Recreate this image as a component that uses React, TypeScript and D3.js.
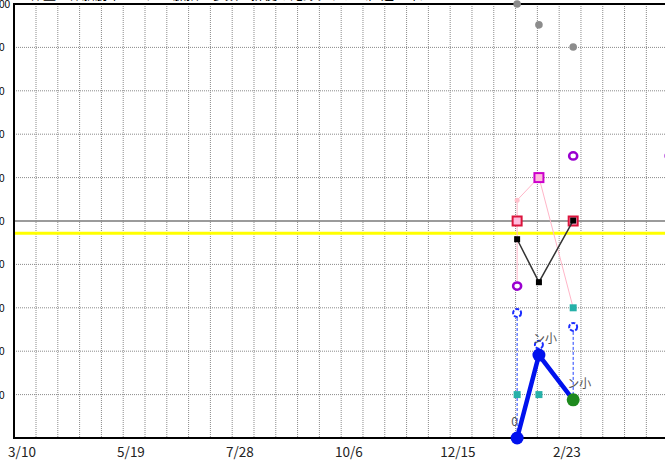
import React from "react";
import * as d3 from "d3";

const W = 665;
const H = 466;

// dates of observations
const obsDates = ["2023-01-22", "2023-02-05", "2023-02-27"];
const grayValues = [100, 95.2, 90.1];
const pinkValues = [54.8, 60.1, 30.0];
const squareValues = [50, 60, 50];
const squareColors = ["#dc143c", "#cc00cc", "#dc143c"];
const blackValues = [45.8, 35.9, 50.1];
const tealValues = [10, 10, 30];
const blueRingValues = [28.8, 21.5, 25.6];
const blueMainValues = [0, 19.1, 8.8];
const blueLabels = ["0", "ン小", "ン小"];
const purpleDates = ["2023-01-22", "2023-02-27", "2023-04-30"];
const purpleValues = [35, 65, 65];
const yellowValue = 47.2;
const xTickDates = ["2022-03-10", "2022-05-19", "2022-07-28", "2022-10-06", "2022-12-15", "2023-02-23", "2023-05-04"];
const yTicks = [100, 90, 80, 70, 60, 50, 40, 30, 20, 10];
const title = "体重・体脂肪率・血圧・脈拍・歩数・排便の記録グラフ（直近一年）";

const parse = d3.utcParse("%Y-%m-%d");
const fmt = d3.utcFormat("%-m/%-d");

export default function App() {
  const left = 14, top = 4, bottom = 438;
  const d0 = parse("2022-03-10")!;
  const pxPerDay = 1.557;
  const x = d3.scaleUtc()
    .domain([d0, d3.utcDay.offset(d0, 400)])
    .range([22, 22 + 400 * pxPerDay]);
  const y = d3.scaleLinear().domain([0, 100]).range([bottom, top]);

  const gridStart = parse("2022-03-19")!;
  const gridDates = d3.range(0, 30).map(i => d3.utcDay.offset(gridStart, i * 14));

  const od = obsDates.map(s => parse(s)!);
  const lineGen = d3.line<[Date, number]>().x(d => x(d[0])).y(d => y(d[1]));

  const pinkPts: [Date, number][] = od.map((d, i) => [d, pinkValues[i]]);
  const blackPts: [Date, number][] = od.map((d, i) => [d, blackValues[i]]);
  const bluePts: [Date, number][] = od.map((d, i) => [d, blueMainValues[i]]);

  return (
    <svg width={W} height={H} style={{ position: "fixed", left: 0, top: 0, background: "#fff" }}
      fontFamily="'Noto Sans CJK JP', sans-serif">
      <rect x={0} y={0} width={W} height={H} fill="#fff" />
      <text x={30} y={-1} fontSize={13} fill="#000">{title}</text>
      {/* horizontal grid */}
      {yTicks.map(v => (
        <line key={"h" + v} x1={left} x2={W} y1={y(v)} y2={y(v)}
          stroke={v === 50 ? "#7a7a7a" : "#8a8a8a"} strokeWidth={v === 50 ? 1.6 : 1}
          strokeDasharray={v === 50 ? undefined : "1,1"} />
      ))}
      {/* vertical grid */}
      {gridDates.filter(d => x(d) < W).map((d, i) => (
        <line key={"v" + i} x1={x(d)} x2={x(d)} y1={top} y2={bottom}
          stroke="#8a8a8a" strokeWidth={1} strokeDasharray="1,1" />
      ))}
      {/* yellow reference */}
      <line x1={left} x2={W} y1={y(yellowValue)} y2={y(yellowValue)} stroke="#ffff00" strokeWidth={3} />
      {/* frame */}
      <line x1={left} x2={W} y1={top} y2={top} stroke="#000" strokeWidth={2} />
      <line x1={left} x2={W} y1={bottom} y2={bottom} stroke="#000" strokeWidth={2} />
      <line x1={left} x2={left} y1={top - 1} y2={bottom + 1} stroke="#000" strokeWidth={2} />
      {/* y labels */}
      {yTicks.map(v => (
        <text key={"yl" + v} x={-6.5} y={y(v) + 4} fontSize={10} fontFamily="'Liberation Sans', sans-serif" fill="#000">{v}</text>
      ))}
      {/* x labels */}
      {xTickDates.map(s => {
        const d = parse(s)!;
        return <text key={s} x={x(d)} y={457} fontSize={13.5} textAnchor="middle" fill="#222">{fmt(d)}</text>;
      })}
      {/* gray dots */}
      {od.map((d, i) => (
        <circle key={"g" + i} cx={x(d)} cy={y(grayValues[i])} r={3.8} fill="#8c8c8c" />
      ))}
      {/* pink range line at first date */}
      <line x1={x(od[0])} x2={x(od[0])} y1={y(pinkValues[0])} y2={y(purpleValues[0])} stroke="#ffb6c8" strokeWidth={1} />
      {/* blue dashed range lines */}
      {od.map((d, i) => (
        <line key={"bd" + i} x1={x(d)} x2={x(d)} y1={y(blueRingValues[i])} y2={y(blueMainValues[i])}
          stroke="#2040ff" strokeWidth={1} strokeDasharray="3,2" />
      ))}
      {/* pink line */}
      <path d={lineGen(pinkPts)!} fill="none" stroke="#ffb6c8" strokeWidth={1} />
      {pinkPts.map((p, i) => (
        <circle key={"p" + i} cx={x(p[0])} cy={y(p[1])} r={2.5} fill="#ffc0cb" />
      ))}
      {/* squares */}
      {od.map((d, i) => (
        <rect key={"sq" + i} x={x(d) - 4.5} y={y(squareValues[i]) - 4.5} width={9} height={9} fill="#fbd" stroke={squareColors[i]} strokeWidth={2} />
      ))}
      {/* teal squares */}
      {od.map((d, i) => (
        <rect key={"t" + i} x={x(d) - 3.5} y={y(tealValues[i]) - 3.5} width={7} height={7} fill="#26b0a8" />
      ))}
      {/* black line */}
      <path d={lineGen(blackPts)!} fill="none" stroke="#333" strokeWidth={1.5} />
      {blackPts.map((p, i) => (
        <rect key={"b" + i} x={x(p[0]) - 3} y={y(p[1]) - 3} width={6} height={6} fill="#000" />
      ))}
      {/* purple rings */}
      {purpleDates.map((s, i) => {
        const d = parse(s)!;
        return <ellipse key={"pu" + i} cx={x(d)} cy={y(purpleValues[i])} rx={4} ry={3.6} fill="#fff" stroke="#9a00d0" strokeWidth={2.6} />;
      })}
      {/* blue rings */}
      {od.map((d, i) => (
        <circle key={"br" + i} cx={x(d)} cy={y(blueRingValues[i])} r={4} fill="#fff" stroke="#1a2cff" strokeWidth={2} strokeDasharray="4,1.5" />
      ))}
      {/* blue main line */}
      <path d={lineGen(bluePts)!} fill="none" stroke="#0011ee" strokeWidth={4.5} />
      {bluePts.map((p, i) => (
        <circle key={"bm" + i} cx={x(p[0])} cy={y(p[1])} r={6.5} fill={i === 2 ? "#1e8a1e" : "#0011ee"} />
      ))}
      {bluePts.map((p, i) => (
        <text key={"bl" + i} x={x(p[0]) - 6} y={y(p[1]) - 12} fontSize={12} fill="#555">{blueLabels[i]}</text>
      ))}
    </svg>
  );
}
